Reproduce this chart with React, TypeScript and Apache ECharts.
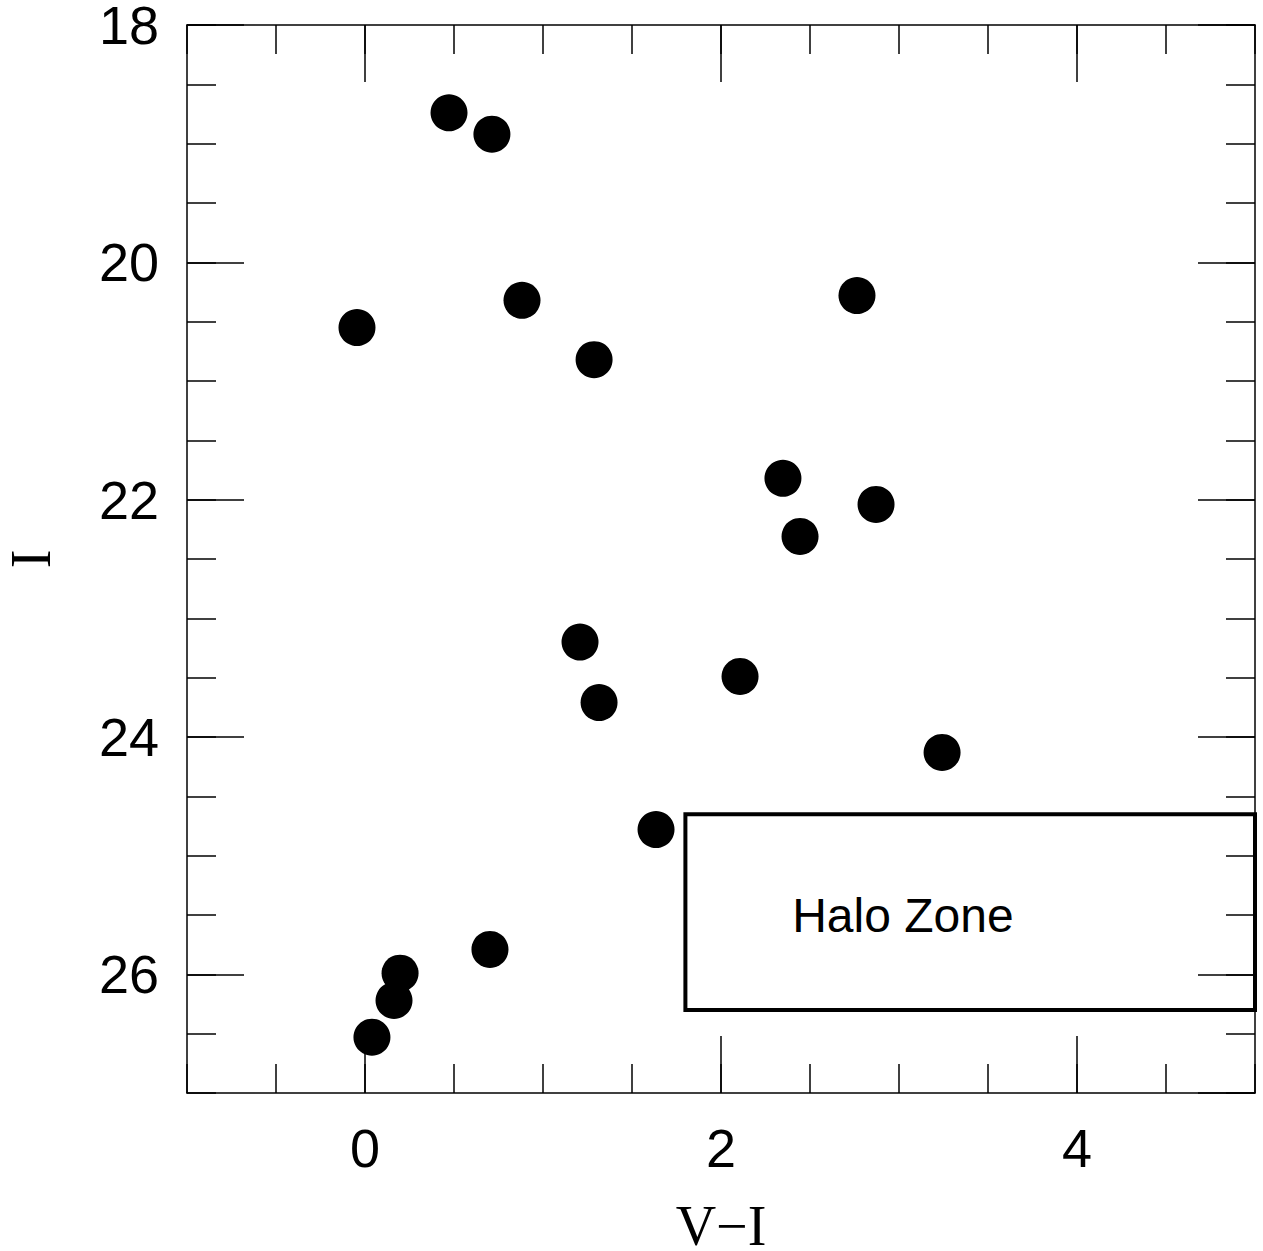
import React, { useEffect, useRef } from "react";
import * as echarts from "echarts";

const colorVI: number[] = [0.472, 0.713, -0.045, 0.882, 1.287, 2.764, 2.348, 2.871, 2.444, 1.208, 1.315, 2.107, 3.242, 1.635, 0.702, 0.197, 0.163, 0.039];
const magI: number[] = [18.74, 18.92, 20.55, 20.32, 20.82, 20.28, 21.82, 22.04, 22.31, 23.2, 23.71, 23.49, 24.13, 24.78, 25.79, 25.99, 26.22, 26.53];

const xMajorTicks: number[] = [0, 2, 4];
const xRange: number[] = [-1, 5];
const yRange: number[] = [18, 27];
const yMajorInterval = 2;
const minorInterval = 0.5;

const haloBox: number[][] = [[1.8, 24.65], [5, 26.3]];
const haloLabel: { text: string; at: number[] } = { text: "Halo Zone", at: [2.4, 25.5] };

const SANS = "'Liberation Sans', Arial, sans-serif";
const SERIF = "'Liberation Serif', 'Times New Roman', serif";

export default function App() {
  const ref = useRef<HTMLDivElement | null>(null);
  useEffect(() => {
    if (!ref.current) return;
    const chart = echarts.init(ref.current, undefined, { renderer: "svg" });
    const line = { show: true, onZero: false, lineStyle: { color: "#000", width: 1.5 } };
    const noLine = { show: false, onZero: false };
    const tickStyle = { color: "#000", width: 1.5 };
    const labelStyle = { color: "#000", fontSize: 54, lineHeight: 40, fontFamily: SANS };

    const xMinor = (position: string) => ({
      type: "value",
      position,
      min: xRange[0],
      max: xRange[1],
      interval: minorInterval,
      axisLine: line,
      axisTick: { show: true, inside: true, length: 29, lineStyle: tickStyle },
      axisLabel: { show: false },
      splitLine: { show: false },
    });
    const yMinor = (position: string) => ({
      type: "value",
      position,
      inverse: true,
      min: yRange[0],
      max: yRange[1],
      interval: minorInterval,
      axisLine: line,
      axisTick: { show: true, inside: true, length: 29, lineStyle: tickStyle },
      axisLabel: { show: false },
      splitLine: { show: false },
    });

    chart.setOption({
      animation: false,
      backgroundColor: "#fff",
      grid: { left: 187, top: 25, right: 8, bottom: 158, containLabel: false, outerBoundsMode: "none" },
      xAxis: [
        xMinor("bottom"),
        {
          type: "value",
          position: "bottom",
          min: xRange[0],
          max: xRange[1],
          axisLine: noLine,
          axisTick: { show: true, inside: true, length: 57, lineStyle: tickStyle, customValues: xMajorTicks },
          axisLabel: { show: true, margin: 35, customValues: xMajorTicks, ...labelStyle },
          splitLine: { show: false },
          name: "V\u2212I",
          nameLocation: "middle",
          nameGap: 113,
          nameTextStyle: { color: "#000", fontSize: 56, lineHeight: 40, fontFamily: SERIF },
        },
        xMinor("top"),
        {
          type: "value",
          position: "top",
          min: xRange[0],
          max: xRange[1],
          axisLine: noLine,
          axisTick: { show: true, inside: true, length: 57, lineStyle: tickStyle, customValues: xMajorTicks },
          axisLabel: { show: false },
          splitLine: { show: false },
        },
      ],
      yAxis: [
        yMinor("left"),
        {
          type: "value",
          position: "left",
          inverse: true,
          min: yRange[0],
          max: yRange[1],
          interval: yMajorInterval,
          axisLine: noLine,
          axisTick: { show: true, inside: true, length: 57, lineStyle: tickStyle },
          axisLabel: { show: true, margin: 28, showMaxLabel: false, ...labelStyle },
          splitLine: { show: false },
          name: "I",
          nameLocation: "middle",
          nameRotate: 90,
          nameGap: 134,
          nameTextStyle: { color: "#000", fontSize: 56, lineHeight: 44, fontFamily: SERIF },
        },
        yMinor("right"),
        {
          type: "value",
          position: "right",
          inverse: true,
          min: yRange[0],
          max: yRange[1],
          interval: yMajorInterval,
          axisLine: noLine,
          axisTick: { show: true, inside: true, length: 57, lineStyle: tickStyle },
          axisLabel: { show: false },
          splitLine: { show: false },
        },
      ],
      series: [
        {
          type: "scatter",
          xAxisIndex: 0,
          yAxisIndex: 0,
          symbol: "circle",
          symbolSize: 37,
          itemStyle: { color: "#000", opacity: 1 },
          data: colorVI.map((v, i) => [v, magI[i]]),
          markArea: {
            silent: true,
            itemStyle: { color: "rgba(0,0,0,0)", borderColor: "#000", borderWidth: 4, opacity: 1 },
            data: [[{ coord: haloBox[0] }, { coord: haloBox[1] }]],
          },
        },
        {
          type: "scatter",
          xAxisIndex: 0,
          yAxisIndex: 0,
          symbolSize: 0,
          silent: true,
          itemStyle: { opacity: 1 },
          data: [haloLabel.at],
          label: {
            show: true,
            position: "right",
            distance: 0,
            formatter: haloLabel.text,
            color: "#000",
            opacity: 1,
            fontSize: 48,
            fontFamily: SANS,
          },
        },
      ],
    });
    return () => chart.dispose();
  }, []);
  return (
    <div
      ref={ref}
      style={{ position: "fixed", left: 0, top: 0, width: 1263, height: 1251, background: "#fff" }}
    />
  );
}
